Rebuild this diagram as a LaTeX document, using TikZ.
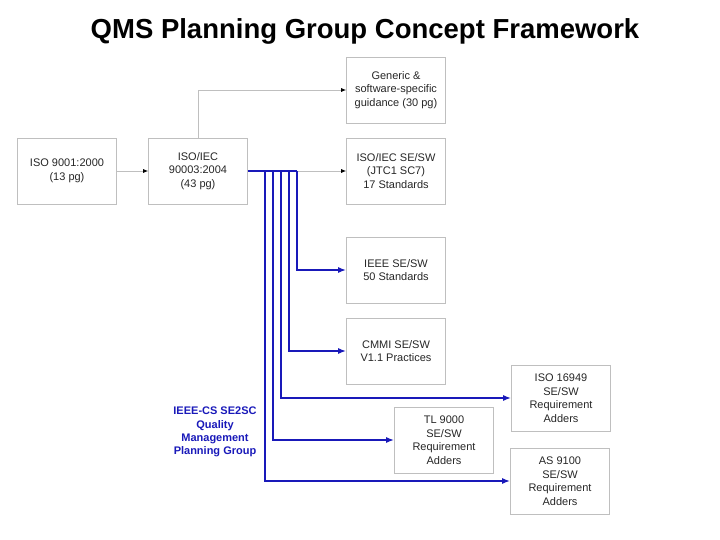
\documentclass[tikz,border=0pt]{standalone}
\usepackage{fontspec}
\setmainfont{Liberation Sans}
\usetikzlibrary{arrows.meta}
\definecolor{qblue}{RGB}{25,25,185}
\begin{document}
\begin{tikzpicture}[x=1pt,y=-1pt,
  box/.style={draw=black!25,line width=0.6pt,minimum width=99pt,minimum height=66pt,inner sep=1pt,align=center,font=\fontsize{11}{13.5}\selectfont,text=black!85},
  garr/.style={draw=black!25,line width=0.8pt,-{Latex[length=5pt,width=4pt,color=black]}},
  barr/.style={draw=qblue,line width=1.6pt,-{Latex[length=8pt,width=6pt]}}]
\useasboundingbox (0,0) rectangle (720,540);
\node[font=\bfseries\fontsize{27.5}{32}\selectfont] (title) at (365,31) {QMS Planning Group Concept Framework};
\node[box] (iso9001) at (67,171) {ISO 9001:2000\\(13 pg)};
\node[box] (iso90003) at (198,171) {ISO/IEC\\90003:2004\\(43 pg)};
\node[box] (generic) at (396,90) {Generic \&\\software-specific\\guidance (30 pg)};
\node[box] (isosc7) at (396,171) {ISO/IEC SE/SW\\(JTC1 SC7)\\17 Standards};
\node[box] (ieee) at (396,270) {IEEE SE/SW\\50 Standards};
\node[box] (cmmi) at (396,351) {CMMI SE/SW\\V1.1 Practices};
\node[box] (iso16949) at (561,398) {ISO 16949\\SE/SW\\Requirement\\Adders};
\node[box] (tl9000) at (444,440) {TL 9000\\SE/SW\\Requirement\\Adders};
\node[box] (as9100) at (560,481) {AS 9100\\SE/SW\\Requirement\\Adders};
\node[align=center,text=qblue,font=\bfseries\fontsize{11}{13.3}\selectfont] (qmpg) at (215,432) {IEEE-CS SE2SC\\Quality\\Management\\Planning Group};
\coordinate (b1) at (297,171);
\draw[garr] (iso9001) -- (iso90003);
\draw[garr] (b1) -- (isosc7);
\draw[garr] (iso90003.north) |- (generic.west);
\draw[draw=qblue,line width=1.6pt] (iso90003.east) -- (b1);
\draw[barr] (297,171) |- (ieee.west);
\draw[barr] (289,171) |- (cmmi.west);
\draw[barr] (281,171) |- (iso16949.west);
\draw[barr] (273,171) |- (tl9000.west);
\draw[barr] (265,171) |- (as9100.west);
\end{tikzpicture}
\end{document}
